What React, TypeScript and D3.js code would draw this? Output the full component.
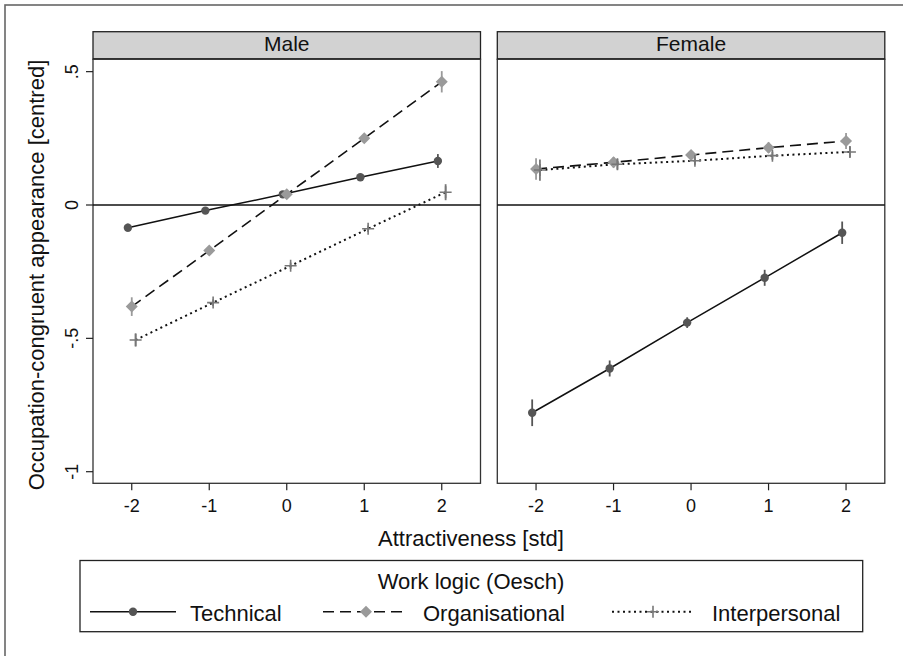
import React from "react";
import * as d3 from "d3";

const xValues = [-2, -1, 0, 1, 2];
const seriesNames = ["Technical", "Organisational", "Interpersonal"];
const panelNames = ["Male", "Female"];
const yTickValues = [0.5, 0, -0.5, -1];
const yTickLabels = [".5", "0", "-.5", "-1"];
const xTickLabels = ["-2", "-1", "0", "1", "2"];

const maleTechnical = [-0.085, -0.021, 0.04, 0.104, 0.165];
const maleTechnicalErr = [0.015, 0.01, 0.01, 0.012, 0.026];
const maleOrganisational = [-0.381, -0.171, 0.04, 0.25, 0.462];
const maleOrganisationalErr = [0.035, 0.015, 0.012, 0.015, 0.04];
const maleInterpersonal = [-0.506, -0.366, -0.228, -0.089, 0.048];
const maleInterpersonalErr = [0.025, 0.012, 0.012, 0.012, 0.03];

const femaleTechnical = [-0.779, -0.613, -0.441, -0.273, -0.104];
const femaleTechnicalErr = [0.05, 0.03, 0.02, 0.03, 0.042];
const femaleOrganisational = [0.135, 0.16, 0.1875, 0.215, 0.24];
const femaleOrganisationalErr = [0.04, 0.02, 0.015, 0.02, 0.03];
const femaleInterpersonal = [0.131, 0.153, 0.166, 0.185, 0.199];
const femaleInterpersonalErr = [0.04, 0.02, 0.015, 0.015, 0.02];

const xOffsets = [-0.05, 0, 0.05];

const panelData = [
  [
    { v: maleTechnical, e: maleTechnicalErr },
    { v: maleOrganisational, e: maleOrganisationalErr },
    { v: maleInterpersonal, e: maleInterpersonalErr },
  ],
  [
    { v: femaleTechnical, e: femaleTechnicalErr },
    { v: femaleOrganisational, e: femaleOrganisationalErr },
    { v: femaleInterpersonal, e: femaleInterpersonalErr },
  ],
];

const FONT = "'Liberation Sans', Arial, Helvetica, sans-serif";
const markerColors = ["#555555", "#9a9a9a", "#777777"];
const dashes = [null, "11,6", "2,3.5"];
const lineWidths = [1.5, 1.6, 2];

const W = 903;
const H = 656;
const plotTop = 59.3;
const plotBottom = 483.3;
const stripTop = 31.7;
const panelLefts = [93, 497.3];
const panelWidth = 387.5;

const yScale = d3
  .scaleLinear()
  .domain([0, -1])
  .range([205, 205 + 266.7]);

function Marker({ kind, x, y, color }: { kind: number; x: number; y: number; color: string }) {
  if (kind === 0) return <circle cx={x} cy={y} r={4.2} fill={color} />;
  if (kind === 1) {
    const s = 6;
    return (
      <path
        d={`M${x},${y - s}L${x + s},${y}L${x},${y + s}L${x - s},${y}Z`}
        fill={color}
      />
    );
  }
  const s = 6;
  return (
    <path
      d={`M${x - s},${y}H${x + s}M${x},${y - s}V${y + s}`}
      stroke={color}
      strokeWidth={1.6}
      fill="none"
    />
  );
}

function Panel({ idx }: { idx: number }) {
  const left = panelLefts[idx];
  const xScale = d3.scaleLinear().domain([-2.5, 2.5]).range([left, left + panelWidth]);
  const series = panelData[idx];
  return (
    <g>
      <rect
        x={left}
        y={stripTop}
        width={panelWidth}
        height={plotTop - stripTop}
        fill="#d2d2d2"
        stroke="#222"
        strokeWidth={1.3}
      />
      <line x1={left} x2={left + panelWidth} y1={plotTop} y2={plotTop} stroke="#111" strokeWidth={2} />
      <text
        x={left + panelWidth / 2}
        y={51}
        textAnchor="middle"
        fontFamily={FONT}
        fontSize={21}
        fill="#111"
      >
        {panelNames[idx]}
      </text>
      <rect
        x={left}
        y={plotTop}
        width={panelWidth}
        height={plotBottom - plotTop}
        fill="#fff"
        stroke="#333"
        strokeWidth={1.3}
      />
      <line
        x1={left}
        x2={left + panelWidth}
        y1={yScale(0)}
        y2={yScale(0)}
        stroke="#111"
        strokeWidth={1.3}
      />
      {series.map((s, si) => {
        const lx = d3
          .line<number>()
          .x((_, i) => xScale(xValues[i] + xOffsets[si]))
          .y((d) => yScale(d));
        return (
          <path
            key={"l" + si}
            d={lx(s.v) || ""}
            fill="none"
            stroke="#111"
            strokeWidth={lineWidths[si]}
            strokeDasharray={dashes[si] || undefined}
          />
        );
      })}
      {series.map((s, si) =>
        s.v.map((v, i) => {
          const cx = xScale(xValues[i] + xOffsets[si]);
          return (
            <g key={`m${si}-${i}`}>
              <line
                x1={cx}
                x2={cx}
                y1={yScale(v + s.e[i])}
                y2={yScale(v - s.e[i])}
                stroke={markerColors[si]}
                strokeWidth={1.8}
              />
              <Marker kind={si} x={cx} y={yScale(v)} color={markerColors[si]} />
            </g>
          );
        })
      )}
      {xValues.map((t, i) => (
        <g key={"xt" + i}>
          <line
            x1={xScale(t)}
            x2={xScale(t)}
            y1={plotBottom}
            y2={plotBottom + 7}
            stroke="#222"
            strokeWidth={1.2}
          />
          <text
            x={xScale(t)}
            y={512}
            textAnchor="middle"
            fontFamily={FONT}
            fontSize={18}
            fill="#111"
          >
            {xTickLabels[i]}
          </text>
        </g>
      ))}
    </g>
  );
}

export default function App() {
  const yAxisX = panelLefts[0];
  const legendItems = [
    { x1: 90, x2: 176, mx: 133, tx: 190 },
    { x1: 323, x2: 408, mx: 366, tx: 423 },
    { x1: 612, x2: 693, mx: 653, tx: 712 },
  ];
  return (
    <svg
      width={W}
      height={H}
      style={{ position: "absolute", left: 0, top: 0, background: "#fff" }}
    >
      <rect x={0} y={0} width={W} height={H} fill="#fff" />
      <rect x={5} y={5} width={W + 10} height={H + 10} fill="none" stroke="#666" strokeWidth={1.6} />
      <Panel idx={0} />
      <Panel idx={1} />
      {yTickValues.map((t, i) => (
        <g key={"yt" + i}>
          <line
            x1={yAxisX - 7}
            x2={yAxisX}
            y1={yScale(t)}
            y2={yScale(t)}
            stroke="#222"
            strokeWidth={1.2}
          />
          <text
            transform={`translate(78,${yScale(t)}) rotate(-90)`}
            textAnchor="middle"
            fontFamily={FONT}
            fontSize={18}
            fill="#111"
          >
            {yTickLabels[i]}
          </text>
        </g>
      ))}
      <text
        transform={`translate(44,275) rotate(-90)`}
        textAnchor="middle"
        fontFamily={FONT}
        fontSize={22}
        fill="#111"
      >
        Occupation-congruent appearance [centred]
      </text>
      <text x={471} y={546} textAnchor="middle" fontFamily={FONT} fontSize={22} fill="#111">
        Attractiveness [std]
      </text>
      <rect x={80} y={560.5} width={782.7} height={71.2} fill="#fff" stroke="#222" strokeWidth={1.3} />
      <text x={471} y={589} textAnchor="middle" fontFamily={FONT} fontSize={22} fill="#111">
        Work logic (Oesch)
      </text>
      {legendItems.map((it, si) => (
        <g key={"lg" + si}>
          <line
            x1={it.x1}
            x2={it.x2}
            y1={611.7}
            y2={611.7}
            stroke="#111"
            strokeWidth={lineWidths[si]}
            strokeDasharray={dashes[si] || undefined}
          />
          <Marker kind={si} x={it.mx} y={611.7} color={markerColors[si]} />
          <text x={it.tx} y={621} fontFamily={FONT} fontSize={22} fill="#111">
            {seriesNames[si]}
          </text>
        </g>
      ))}
    </svg>
  );
}
